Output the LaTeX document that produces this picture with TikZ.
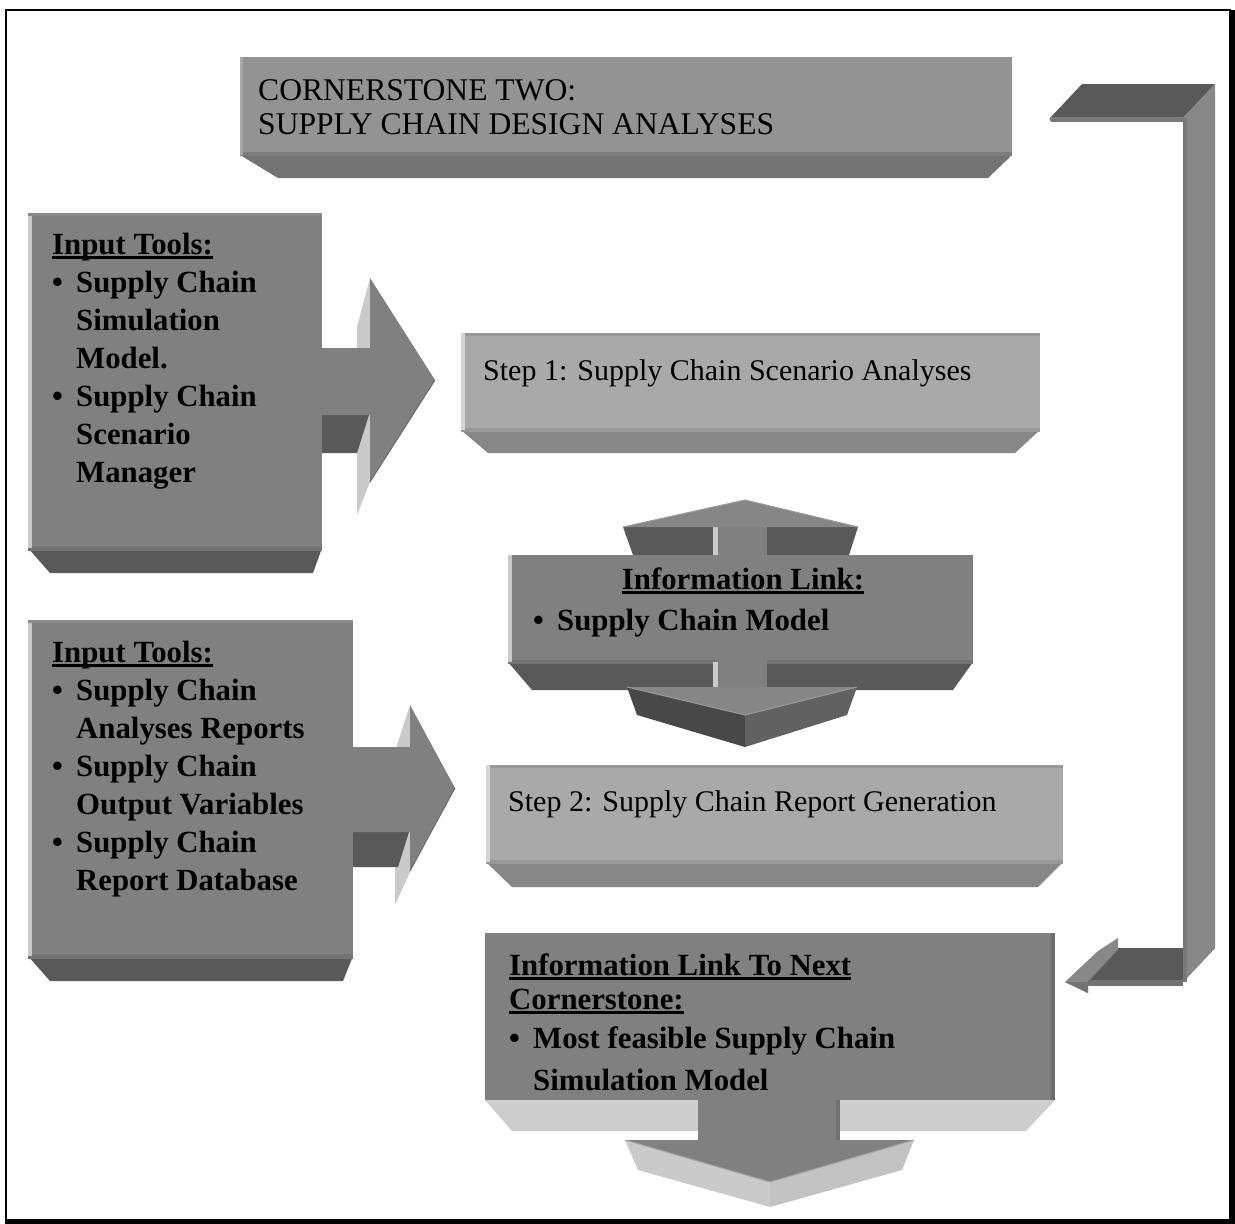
\documentclass[tikz,border=0pt]{standalone}
\usepackage{fontspec}
\setmainfont{Liberation Serif}
% stacked lines, baseline of the stack = baseline of its first line
\newcommand\stack[1]{\vtop{\halign{##\hfil\cr#1\crcr}}}
% heavy underline
\newcommand\ulx[1]{\setbox0\hbox{#1}\rlap{\rule[-5pt]{\wd0}{2.8pt}}\box0}
\newcommand\bl{\makebox[24pt][l]{•}}
\newcommand\hang{\hspace*{24pt}}
\definecolor{gA}{HTML}{939393}
\definecolor{gAb}{HTML}{737373}
\definecolor{gM}{HTML}{808080}
\definecolor{gD}{HTML}{595959}
\definecolor{gL}{HTML}{A9A9A9}
\definecolor{gLb}{HTML}{878787}
\definecolor{gHi}{HTML}{CACACA}
\definecolor{gPale}{HTML}{CDCDCD}
\definecolor{gBar}{HTML}{888888}
\begin{document}
\begin{tikzpicture}[x=1pt,y=-1pt,
  txt/.style={inner sep=0pt, anchor=base west, font=\fontsize{30}{38}\selectfont},
  btxt/.style={inner sep=0pt, anchor=base west, font=\fontsize{30.8}{38}\selectfont\bfseries}]
\useasboundingbox (0,0) rectangle (1235,1224);
\fill[white] (0,0) rectangle (1235,1224);

% ---------- outer frame ----------
\draw[line width=2pt] (6,10) rectangle (1230,1220);
\fill[black] (1229,10) rectangle (1235,1224);
\fill[black] (5,1219) rectangle (1235,1224);

% ---------- title block ----------
\fill[gAb] (240,155) -- (1012,155) -- (988,178) -- (278,178) -- cycle;
\fill[gA] (240,57) rectangle (1012,155);
\fill[gA!85!black] (240,152) rectangle (1012,156);
\fill[gA!80!white] (240,57) rectangle (243,155);
\node[txt, font=\fontsize{31.6}{34}\selectfont] (title) at (258,100)
  {\stack{CORNERSTONE TWO:\cr SUPPLY CHAIN DESIGN ANALYSES}};

% ---------- bent return arrow on the right ----------
\fill[gD] (1082,84) -- (1215,84) -- (1183,118) -- (1050,118) -- cycle;
\draw[gD!80!white, line width=5pt, line cap=round] (1052,119) -- (1183,119);
\fill[gD] (1118,948) -- (1215,948) -- (1183,982) -- (1088,982) -- cycle;
\fill[gD!85!white] (1088,980) rectangle (1183,986);
\fill[gBar] (1183,118) -- (1215,84) -- (1215,948) -- (1183,982) -- cycle;
\fill[gBar!88!black] (1183,118) rectangle (1187,982);
\fill[gBar] (1065,982) -- (1098,951) -- (1118,938) -- (1118,950) -- (1088,982) -- (1088,993) -- cycle;
\fill[gBar!85!black] (1065,982) -- (1088,982) -- (1088,993) -- cycle;
\draw[gBar!75!black, line width=0.8pt] (1088,982) -- (1118,950);
\coordinate (ret) at (1065,982);

% ---------- input tools, first block ----------
\fill[gD] (28,548) -- (322,548) -- (313,573) -- (50,573) -- cycle;
\fill[gM] (28,213) rectangle (322,548);
\fill[gM!90!black] (28,546) rectangle (322,551);
\fill[gHi] (28,213) rectangle (32,548);
\fill[gM!92!white] (28,213) rectangle (322,216);
% its arrow into step 1
\fill[gHi] (357,327) -- (370,278) -- (371,348) -- (357,348) -- cycle;
\fill[gHi] (357,420) -- (370,415) -- (370,482) -- (357,515) -- cycle;
\fill[gD] (322,415) -- (369,415) -- (357,453) -- (322,453) -- cycle;
\fill[gM] (322,348) -- (370,348) -- (370,278) -- (435,380) -- (370,482) -- (370,415) -- (322,415) -- cycle;
\draw[gM!85!black, line width=1pt] (435,380) -- (370,482);
\node[btxt] (in1) at (52,254)
  {\stack{\ulx{Input Tools:}\cr
          \bl Supply Chain\cr \hang Simulation\cr \hang Model.\cr
          \bl Supply Chain\cr \hang Scenario\cr \hang Manager}};

% ---------- input tools, second block ----------
\fill[gD] (28,956) -- (353,956) -- (343,981) -- (50,981) -- cycle;
\fill[gM] (28,620) rectangle (353,956);
\fill[gM!90!black] (28,954) rectangle (353,959);
\fill[gHi] (28,620) rectangle (32,956);
\fill[gM!92!white] (28,620) rectangle (353,623);
% its arrow into step 2
\fill[gHi] (397,745) -- (410,705) -- (411,747) -- (397,747) -- cycle;
\fill[gHi] (395,840) -- (410,832) -- (410,872) -- (395,905) -- cycle;
\fill[gD] (353,832) -- (409,832) -- (398,867) -- (353,867) -- cycle;
\fill[gM] (353,747) -- (410,747) -- (410,705) -- (455,788) -- (410,871) -- (410,832) -- (353,832) -- cycle;
\draw[gM!85!black, line width=1pt] (455,788) -- (410,871);
\node[btxt] (in2) at (52,662)
  {\stack{\ulx{Input Tools:}\cr
          \bl Supply Chain\cr \hang Analyses Reports\cr
          \bl Supply Chain\cr \hang Output Variables\cr
          \bl Supply Chain\cr \hang Report Database}};

% ---------- step 1 ----------
\fill[gLb] (461,430) -- (1040,430) -- (1015,453) -- (488,453) -- cycle;
\fill[gL] (461,333) rectangle (1040,430);
\fill[gL!90!black] (461,428) rectangle (1040,432);
\fill[gL!90!black] (461,333) rectangle (1040,336);
\fill[gL!50!white] (461,333) rectangle (465,430);
\node[txt] (s1) at (483,380) {Step 1: Supply Chain Scenario Analyses};

% ---------- information link with two-way arrow ----------
\fill[gD] (623,527) -- (858,527) -- (849,555) -- (633,555) -- cycle;
\fill[gM] (717,520) rectangle (767,556);
\fill[gHi] (713,527) rectangle (718,556);
\fill[gM!95!white] (623,527) -- (745,500) -- (858,527) -- cycle;
\draw[gM!80!white, line width=1pt] (623,527) -- (745,500) -- (858,527);
\fill[gD] (508,662) -- (973,662) -- (953,690) -- (532,690) -- cycle;
\fill[gM] (508,555) rectangle (973,662);
\fill[gM!90!black] (508,660) rectangle (973,664);
\fill[gHi] (508,555) rectangle (512,662);
\fill[gM] (717,660) rectangle (767,690);
\fill[gHi] (713,662) rectangle (718,687);
\fill[gD!110!white] (627,687) -- (637,715) -- (745,747) -- (745,715) -- cycle;
\fill[gD!95!white] (745,715) -- (745,747) -- (847,715) -- (857,687) -- cycle;
\fill[gM!95!white] (627,687) -- (857,687) -- (745,715) -- cycle;
\draw[gM!80!white, line width=1pt] (627,687) -- (745,715) -- (857,687);
\node[btxt, anchor=base] (il) at (743,589) {\ulx{Information Link:}};
\node[btxt] (ilb) at (533,630) {\makebox[24pt][l]{•}Supply Chain Model};

% ---------- step 2 ----------
\fill[gLb] (486,862) -- (1063,862) -- (1038,887) -- (512,887) -- cycle;
\fill[gL] (486,765) rectangle (1063,862);
\fill[gL!90!black] (486,860) rectangle (1063,864);
\fill[gL!90!black] (486,765) rectangle (1063,768);
\fill[gL!50!white] (486,765) rectangle (490,862);
\node[txt] (s2) at (508,811) {Step 2: Supply Chain Report Generation};

% ---------- link to next cornerstone ----------
\fill[gPale] (485,1100) -- (1055,1100) -- (1026,1131) -- (512,1131) -- cycle;
\fill[gM] (485,933) rectangle (1055,1100);
\fill[gM!85!black] (1051,933) rectangle (1055,1100);
\fill[gM] (698,1098) rectangle (840,1141);
\fill[gM!88!black] (836,1100) rectangle (840,1141);
\fill[gPale!105!white] (625,1140) -- (638,1170) -- (770,1207) -- (770,1182) -- cycle;
\fill[gPale!95!black] (770,1182) -- (770,1207) -- (902,1170) -- (914,1140) -- cycle;
\fill[gM] (625,1140) -- (914,1140) -- (770,1182) -- cycle;
\draw[gM!70!white, line width=1pt] (625,1140) -- (770,1182) -- (914,1140);
\node[btxt, font=\fontsize{30.8}{34}\selectfont\bfseries] (nx) at (509,975)
  {\stack{\ulx{Information Link To Next}\cr \ulx{Cornerstone:}}};
\node[btxt, font=\fontsize{30.8}{42}\selectfont\bfseries] (nxb) at (509,1048)
  {\stack{\bl Most feasible Supply Chain\cr \hang Simulation Model}};
\end{tikzpicture}
\end{document}
